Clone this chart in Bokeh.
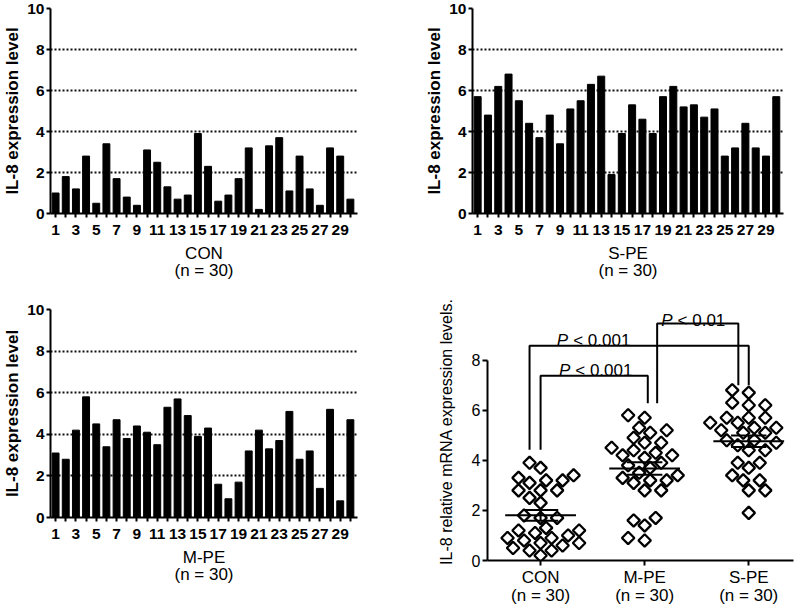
import numpy as np
from bokeh.plotting import figure
from bokeh.layouts import column, row
from bokeh.models import FixedTicker, Range1d
from bokeh.embed import file_html
from bokeh.resources import INLINE
from bokeh.core.properties import value

# ---------------- data ----------------
patients = list(range(1, 31))
con = [1.0, 1.8, 1.2, 2.8, 0.5, 3.4, 1.7, 0.8, 0.4, 3.1,
       2.5, 1.3, 0.7, 0.9, 3.9, 2.3, 0.6, 0.9, 1.7, 3.2,
       0.2, 3.3, 3.7, 1.1, 2.8, 1.2, 0.4, 3.2, 2.8, 0.7]
spe = [5.7, 4.8, 6.2, 6.8, 5.5, 4.4, 3.7, 4.8, 3.4, 5.1,
       5.5, 6.3, 6.7, 1.9, 3.9, 5.3, 4.6, 3.9, 5.7, 6.2,
       5.2, 5.3, 4.7, 5.1, 2.8, 3.2, 4.4, 3.2, 2.8, 5.7]
mpe = [3.1, 2.8, 4.2, 5.8, 4.5, 3.4, 4.7, 3.8, 4.4, 4.1,
       3.5, 5.3, 5.7, 4.9, 3.9, 4.3, 1.6, 0.9, 1.7, 3.2,
       4.2, 3.3, 3.7, 5.1, 2.8, 3.2, 1.4, 5.2, 0.8, 4.7]
group_pos = [1, 2, 3]
group_labels = ["CON\n(n = 30)", "M-PE\n(n = 30)", "S-PE\n(n = 30)"]
bar_yticks = [0, 2, 4, 6, 8, 10]
scatter_yticks = [0, 2, 4, 6, 8]
# significance brackets: left x, right x, top y, left foot y, right foot y, label x, label y, label
br_x0 = [1.00, 0.894, 2.12]
br_x1 = [2.03, 3.00, 2.90]
br_top = [7.38, 8.57, 9.46]
br_foot0 = [4.42, 4.42, 6.28]
br_foot1 = [6.28, 7.00, 7.00]
br_tx = [1.53, 1.51, 2.47]
br_ty = [7.57, 8.77, 9.60]
br_txt = ["< 0.001", "< 0.001", "< 0.01"]
br_wid = [73.0, 73.0, 64.0]

FONT = "Liberation Sans"


def style_axes(p, bold, tick_size, lw):
    for ax in (p.xaxis, p.yaxis):
        ax.axis_line_width = lw
        ax.axis_line_color = "black"
        ax.major_tick_line_width = lw
        ax.major_tick_line_color = "black"
        ax.major_tick_in = 0
        ax.major_tick_out = 4
        ax.minor_tick_line_color = None
        ax.major_label_text_font = FONT
        ax.major_label_text_font_size = tick_size
        ax.major_label_text_font_style = "bold" if bold else "normal"
        ax.major_label_text_color = "black"
        ax.major_label_standoff = 2
        ax.axis_label_text_font = FONT
        ax.axis_label_text_color = "black"


def bar_fig(vals, xlabel, height, bl, br, bt, bb):
    p = figure(width=400, height=height, x_range=Range1d(0.5, 30.7), y_range=Range1d(0, 10),
               output_backend="svg", toolbar_location=None,
               min_border_left=bl, min_border_right=br, min_border_top=bt, min_border_bottom=bb)
    p.outline_line_color = None
    p.vbar(x=patients, top=vals, width=0.68, color="black")
    p.xgrid.visible = False
    p.ygrid.ticker = FixedTicker(ticks=bar_yticks[1:])
    p.ygrid.grid_line_color = "#111111"
    p.ygrid.grid_line_width = 2
    p.ygrid.grid_line_dash = "2 2"
    style_axes(p, True, "15.5px", 2)
    p.yaxis.ticker = FixedTicker(ticks=bar_yticks)
    p.xaxis.ticker = FixedTicker(ticks=patients)
    p.xaxis.major_label_overrides = {i: (str(i) if i % 2 else "") for i in patients}
    p.xaxis.major_label_standoff = 7
    p.yaxis.axis_label = "IL-8 expression level"
    p.yaxis.axis_label_text_font_style = "bold"
    p.yaxis.axis_label_text_font_size = "17px"
    p.yaxis.axis_label_text_line_height = 0.9
    p.yaxis.axis_label_standoff = 2
    p.xaxis.axis_label = xlabel
    p.xaxis.axis_label_text_font_style = "normal"
    p.xaxis.axis_label_text_font_size = "17px"
    p.xaxis.axis_label_text_line_height = 0.9
    p.xaxis.axis_label_standoff = 6
    return p


def swarm(vals, ppx, ppy, d=11.5, step=5.5):
    placed = []
    offs = [0.0] * len(vals)
    order = sorted(range(len(vals)), key=lambda i: vals[i])
    for n, i in enumerate(order):
        y = vals[i] * ppy
        k = 0
        chosen = None
        while chosen is None:
            if k == 0:
                cands = [0.0]
            elif n % 2 == 0:
                cands = [k * step, -k * step]
            else:
                cands = [-k * step, k * step]
            for c in cands:
                if all((c - px) ** 2 + (y - py) ** 2 >= d * d for px, py in placed):
                    chosen = c
                    break
            k += 1
        placed.append((chosen, y))
        offs[i] = chosen / ppx
    return offs


p1 = bar_fig(con, "CON\n(n = 30)", 300, 47, 43, 8, 87)
p2 = bar_fig(spe, "S-PE\n(n = 30)", 300, 72, 17, 8, 87)
p3 = bar_fig(mpe, "M-PE\n(n = 30)", 307, 47, 43, 9, 90)

# scatter panel
p4 = figure(width=400, height=307, x_range=Range1d(0.49, 3.43), y_range=Range1d(0, 10.3),
            output_backend="svg", toolbar_location=None,
            min_border_left=87, min_border_right=7, min_border_top=2, min_border_bottom=39)
p4.outline_line_color = None
p4.grid.visible = False
style_axes(p4, False, "16px", 2)
p4.yaxis.ticker = FixedTicker(ticks=scatter_yticks)
p4.yaxis.bounds = (0, 8)
p4.yaxis.major_tick_out = 5
p4.xaxis.major_tick_out = 5
p4.xaxis.ticker = FixedTicker(ticks=group_pos)
p4.xaxis.major_label_overrides = {g: l for g, l in zip(group_pos, group_labels)}
p4.xaxis.major_label_text_font_size = "17px"
p4.xaxis.major_label_text_line_height = 0.95
p4.yaxis.axis_label = "IL-8 relative mRNA expression levels."
p4.yaxis.axis_label_text_font_style = "normal"
p4.yaxis.axis_label_text_font_size = "16px"
p4.yaxis.axis_label_standoff = 14

ppx = 104.0
ppy = 25.75
for g, vals in zip(group_pos, [con, mpe, spe]):
    offs = swarm(vals, ppx, ppy)
    xs = [g + o for o in offs]
    p4.scatter(xs, vals, marker="square", angle=np.pi / 4, size=8.8,
               fill_alpha=0, line_color="black", line_width=2.3)
    m = float(np.mean(vals))
    sem = float(np.std(vals, ddof=1) / np.sqrt(len(vals)))
    p4.segment(x0=[g - 0.34], y0=[m], x1=[g + 0.34], y1=[m], line_color="black", line_width=2)
    p4.segment(x0=[g - 0.17, g - 0.17, g], y0=[m - sem, m + sem, m - sem],
               x1=[g + 0.17, g + 0.17, g], y1=[m - sem, m + sem, m + sem],
               line_color="black", line_width=2)

for i in range(len(br_x0)):
    p4.line([br_x0[i], br_x0[i], br_x1[i], br_x1[i]],
            [br_foot0[i], br_top[i], br_top[i], br_foot1[i]],
            line_color="black", line_width=2)
    split = -br_wid[i] / 2 + 11.0
    p4.text(x=[br_tx[i]], y=[br_ty[i]], text=["P"], x_offset=split,
            text_align="right", text_baseline="alphabetic",
            text_font=value(FONT), text_font_style="italic", text_font_size="17px",
            text_color="black")
    p4.text(x=[br_tx[i]], y=[br_ty[i]], text=[br_txt[i]], x_offset=split + 5,
            text_align="left", text_baseline="alphabetic",
            text_font=value(FONT), text_font_size="17px", text_color="black")

layout = column(row(column(p1), column(p2)), row(column(p3), column(p4)))
open("out.html", "w").write(file_html(layout, INLINE))
